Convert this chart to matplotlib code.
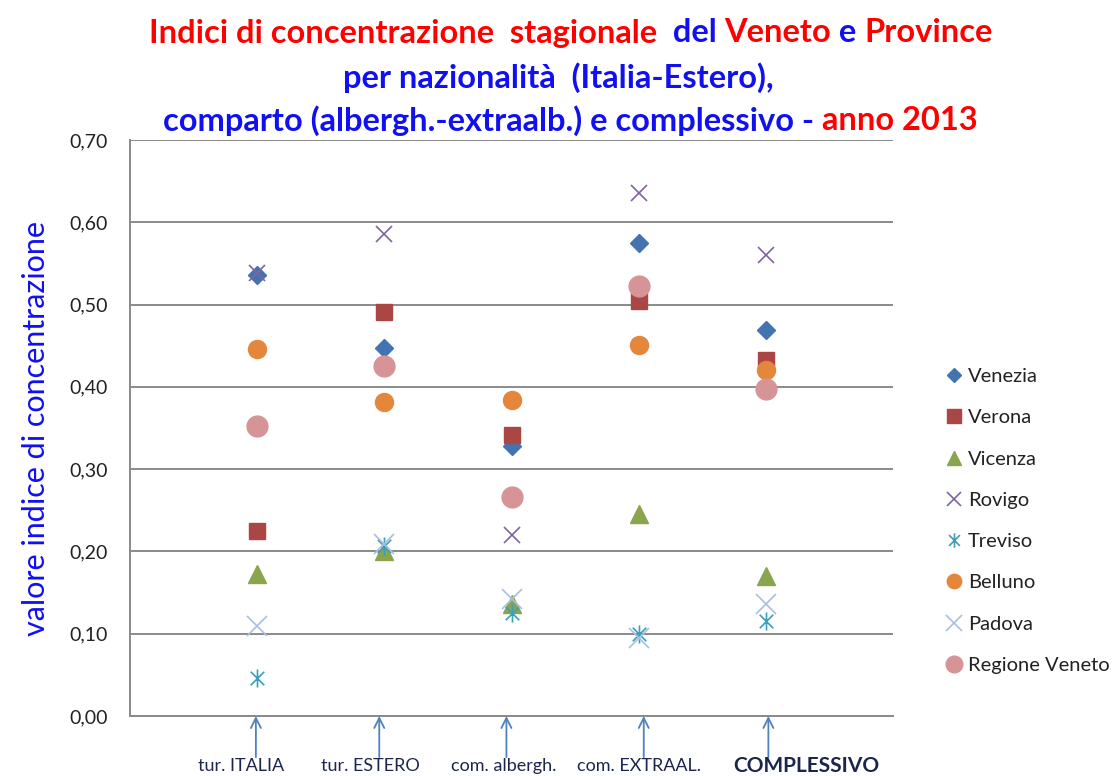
import matplotlib
matplotlib.use("Agg")
import matplotlib.pyplot as plt
from matplotlib.path import Path

# ---- data ----
categories = ["tur. ITALIA", "tur. ESTERO", "com. albergh.", "com. EXTRAAL.", "COMPLESSIVO"]
y_ticks = [0.0, 0.1, 0.2, 0.3, 0.4, 0.5, 0.6, 0.7]

series_names = ["Venezia", "Verona", "Vicenza", "Rovigo", "Treviso",
                "Belluno", "Padova", "Regione Veneto"]
venezia = [0.536, 0.447, 0.328, 0.575, 0.469]
verona = [0.225, 0.491, 0.342, 0.504, 0.433]
vicenza = [0.173, 0.201, 0.136, 0.245, 0.170]
rovigo = [0.538, 0.586, 0.220, 0.635, 0.560]
treviso = [0.046, 0.207, 0.125, 0.100, 0.115]
belluno = [0.446, 0.381, 0.384, 0.451, 0.420]
padova = [0.109, 0.209, 0.142, 0.095, 0.136]
regione = [0.352, 0.425, 0.266, 0.523, 0.398]

# ---- style ----
FONT = "Lato"
RED, BLUE = "#FF0000", "#1010F0"
NAVY = "#1B2550"

star = Path([(0, -1), (0, 1), (-0.75, -0.75), (0.75, 0.75), (-0.75, 0.75), (0.75, -0.75)],
            [Path.MOVETO, Path.LINETO] * 3)

styles = [
    dict(marker="D", color="#4474AF", ms=9),
    dict(marker="s", color="#AA4643", ms=12),
    dict(marker="^", color="#89A54E", ms=13),
    dict(marker="x", color="#8064A2", ms=12, mew=1.2),
    dict(marker=star, color="#3D9FB8", ms=13, mew=1.2),
    dict(marker="o", color="#E5873A", ms=13),
    dict(marker="x", color="#A9BFE0", ms=14, mew=1.2),
    dict(marker="o", color="#D69497", ms=15),
]

fig = plt.figure(figsize=(11.16, 7.76), dpi=100)
ax = fig.add_axes([130 / 1116, 1 - 716 / 776, 763 / 1116, 576 / 776])

xs = list(range(1, len(categories) + 1))
data = [venezia, verona, vicenza, rovigo, treviso, belluno, padova, regione]
for name, vals, st in zip(series_names, data, styles):
    ax.plot(xs, vals, ls="none", marker=st["marker"], ms=st["ms"],
            color=st["color"], mec=st["color"], mew=st.get("mew", 1.0),
            label=name, clip_on=False)

ax.set_xlim(0, 6)
ax.set_ylim(0, 0.7)
ax.set_yticks(y_ticks)
ax.set_yticklabels([f"{v:.2f}".replace(".", ",") for v in y_ticks],
                   fontsize=14, family=FONT, color="#222222")
ax.set_xticks([])
ax.tick_params(axis="y", length=0, pad=16)
ax.grid(axis="y", color="#8A8A8A", lw=1.4)
ax.set_axisbelow(True)
for side in ("top", "right"):
    ax.spines[side].set_visible(False)
for side in ("left", "bottom"):
    ax.spines[side].set_color("#8A8A8A")
    ax.spines[side].set_linewidth(1.4)

ax.set_ylabel("valore indice di concentrazione", color=BLUE, fontsize=22,
              family=FONT, labelpad=14)

# arrows and category labels below the axis
arrow_x = [0.99, 1.96, 2.96, 4.04, 5.02]
label_x = [0.87, 1.89, 2.94, 4.00, 5.32]
for i, (ax_x, lx, lab) in enumerate(zip(arrow_x, label_x, categories)):
    ax.annotate("", xy=(ax_x, 0.0), xytext=(ax_x, -0.05),
                arrowprops=dict(arrowstyle="->", color="#4F81BD", lw=1.3,
                                mutation_scale=18, shrinkA=0, shrinkB=0),
                annotation_clip=False)
    last = i == len(categories) - 1
    ax.text(lx, -0.0605, lab, ha="center", va="center", color=NAVY,
            family=FONT, fontsize=15 if last else 13,
            fontweight="bold" if last else "normal", clip_on=False)

leg = ax.legend(loc="upper left", bbox_to_anchor=(940 / 1116, 1 - 360 / 776),
                bbox_transform=fig.transFigure, frameon=False,
                prop=dict(family=FONT, size=14.5), markerscale=0.8,
                handlelength=0.6, handletextpad=0.4, labelspacing=1.2,
                borderaxespad=0)
for t in leg.get_texts():
    t.set_color("#222222")

# multi-coloured title
title_lines = [
    (33, 571, [("Indici di concentrazione  stagionale ", RED), (" del ", BLUE),
               ("Veneto", RED), (" e ", BLUE), ("Province", RED)]),
    (78, 558, [("per nazionalità  (Italia-Estero),", BLUE)]),
    (121, 570, [("comparto (albergh.-extraalb.) e complessivo - ", BLUE),
                ("anno 2013", RED)]),
]
W, H = fig.get_size_inches() * fig.dpi
renderer = fig.canvas.get_renderer()
for ypx, xc, pieces in title_lines:
    texts = [fig.text(0, 1 - ypx / H, s, color=c, family=FONT, fontsize=23.5,
                      fontweight="bold", ha="left", va="center")
             for s, c in pieces]
    widths = [t.get_window_extent(renderer).width for t in texts]
    x = xc - sum(widths) / 2
    for t, w in zip(texts, widths):
        t.set_x(x / W)
        x += w

fig.savefig("out.png", dpi=100)
